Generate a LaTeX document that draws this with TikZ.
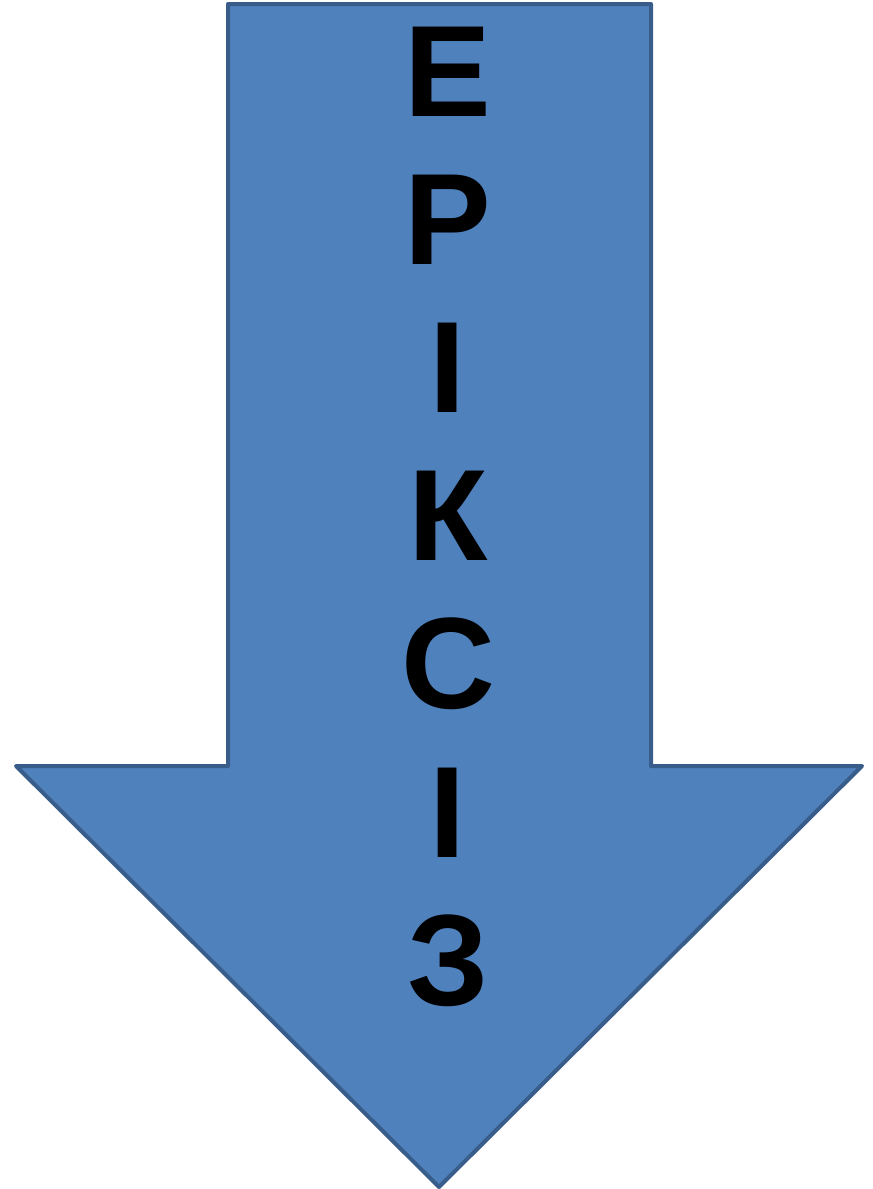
\documentclass[tikz,border=0pt]{standalone}
\usepackage{fontspec}
\setmainfont{Liberation Sans}
\definecolor{arrowfill}{RGB}{79,129,189}
\definecolor{arrowline}{RGB}{56,93,138}
\tikzset{
  arrowbody/.style={
    fill=arrowfill,
    draw=arrowline,
    line width=4pt,
    line join=round
  },
  letter/.style={
    anchor=base,
    inner sep=0pt,
    font=\fontsize{130}{130}\selectfont\bfseries
  }
}

\begin{document}
\begin{tikzpicture}[x=1pt,y=-1pt]
  \useasboundingbox (0,0) rectangle (873,1189);
  \draw[arrowbody]
    (228,4) -- (651,4) -- (651,766) -- (862,766) -- (439,1187)
    -- (16,766) -- (228,766) -- cycle;
  \foreach \ch/\n [count=\i from 0] in {Е/le,Р/lr,І/li,К/lk,С/ls,І/lii,З/lz}
    \node[letter] (\n) at (448,116+148.2*\i) {\ch};
\end{tikzpicture}
\end{document}
